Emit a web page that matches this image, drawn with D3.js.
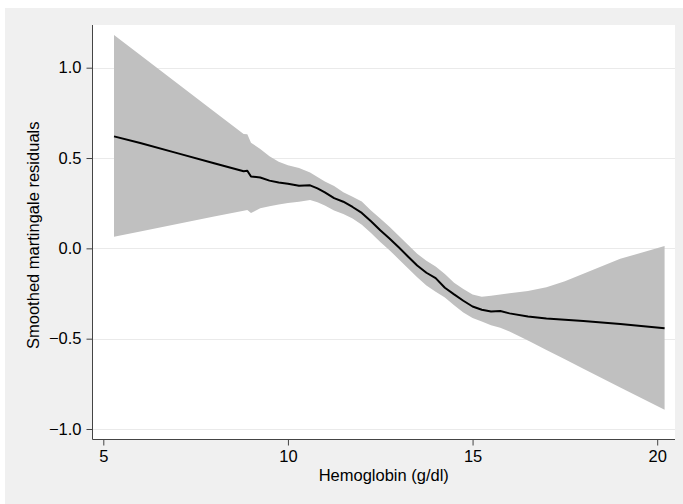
<!DOCTYPE html>
<html>
<head>
<meta charset="utf-8">
<script src="https://cdn.jsdelivr.net/npm/d3@7"></script>
<style>
  html, body { margin: 0; padding: 0; background: #ffffff; }
  svg { display: block; }
  text { font-family: "Liberation Sans", Arial, Helvetica, sans-serif; fill: #000; }
</style>
</head>
<body>
<svg id="chart" width="683" height="504"></svg>
<script>
// Hemoglobin (g/dl)
const hemoglobin = [5.29, 6, 7, 8, 8.8, 8.9, 9.0, 9.25, 9.5, 9.75, 10.0, 10.3, 10.6, 10.8, 11.0, 11.25, 11.5, 11.75, 12.0, 12.25, 12.5, 12.75, 13.0, 13.25, 13.5, 13.75, 14.0, 14.25, 14.5, 14.75, 15.0, 15.25, 15.5, 15.75, 16.0, 16.5, 17.0, 17.5, 18, 19, 20.2];
// Smoothed martingale residuals
const smoothed = [0.62, 0.583, 0.527, 0.471, 0.427, 0.43, 0.398, 0.392, 0.375, 0.364, 0.358, 0.347, 0.349, 0.332, 0.31, 0.278, 0.258, 0.229, 0.196, 0.15, 0.10, 0.055, 0.006, -0.045, -0.095, -0.135, -0.165, -0.218, -0.255, -0.29, -0.322, -0.34, -0.35, -0.347, -0.36, -0.377, -0.388, -0.395, -0.402, -0.419, -0.442];
// Upper confidence bound
const upperCI = [1.181, 1.07, 0.914, 0.758, 0.633, 0.632, 0.585, 0.55, 0.51, 0.48, 0.46, 0.445, 0.42, 0.395, 0.37, 0.345, 0.31, 0.285, 0.26, 0.21, 0.165, 0.12, 0.07, 0.02, -0.03, -0.068, -0.1, -0.142, -0.19, -0.225, -0.255, -0.268, -0.262, -0.255, -0.248, -0.236, -0.216, -0.182, -0.141, -0.058, 0.013];
// Lower confidence bound
const lowerCI = [0.064, 0.093, 0.135, 0.176, 0.208, 0.212, 0.196, 0.222, 0.233, 0.243, 0.251, 0.258, 0.268, 0.255, 0.237, 0.21, 0.19, 0.165, 0.13, 0.085, 0.035, -0.01, -0.06, -0.11, -0.16, -0.205, -0.24, -0.272, -0.315, -0.355, -0.385, -0.405, -0.425, -0.44, -0.46, -0.51, -0.563, -0.614, -0.666, -0.77, -0.894];

const xTicks = [5, 10, 15, 20];
const yTicks = [-1.0, -0.5, 0.0, 0.5, 1.0];
const xTitle = "Hemoglobin (g/dl)";
const yTitle = "Smoothed martingale residuals";

const data = hemoglobin.map((x, i) => ({ x, y: smoothed[i], hi: upperCI[i], lo: lowerCI[i] }));

const svg = d3.select("#chart");
const W = 683, H = 504;
const plot = { left: 92.5, right: 675, top: 25, bottom: 439.5 };

// outer background
svg.append("rect").attr("x", 5).attr("y", 8).attr("width", W - 5).attr("height", H - 8).attr("fill", "#f0f0f0");
// plot region
svg.append("rect").attr("x", plot.left).attr("y", plot.top)
  .attr("width", plot.right - plot.left).attr("height", plot.bottom - plot.top).attr("fill", "#ffffff");

const x = d3.scaleLinear().domain([5, 20]).range([103.3, 657.2]);
const y = d3.scaleLinear().domain([-1, 1]).range([429.0, 67.7]);

// gridlines
svg.append("g").selectAll("line").data(yTicks).join("line")
  .attr("x1", plot.left + 0.5).attr("x2", plot.right)
  .attr("y1", d => Math.round(y(d)) + 0.5).attr("y2", d => Math.round(y(d)) + 0.5)
  .attr("stroke", "#eaeaea").attr("stroke-width", 1);

// confidence band
const area = d3.area().x(d => x(d.x)).y0(d => y(d.lo)).y1(d => y(d.hi));
svg.append("path").datum(data).attr("d", area).attr("fill", "#c0c0c0");

// smoothed line
const line = d3.line().x(d => x(d.x)).y(d => y(d.y));
svg.append("path").datum(data).attr("d", line)
  .attr("fill", "none").attr("stroke", "#000").attr("stroke-width", 2).attr("stroke-linejoin", "round");

// axes
const yAxis = d3.axisLeft(y).tickValues(yTicks).tickFormat(d => d3.format(".1f")(d).replace("-", "\u2212")).tickSize(6).tickPadding(5);
const gy = svg.append("g").attr("transform", `translate(${plot.left},0)`).call(yAxis);
gy.select(".domain").remove();
gy.append("line").attr("x1", 0).attr("x2", 0).attr("y1", plot.top).attr("y2", plot.bottom).attr("stroke", "#444");
gy.selectAll(".tick line").attr("stroke", "#444");
gy.selectAll(".tick text").style("font-size", "16.5px").attr("fill", "#000")
  .style("font-family", '"Liberation Sans", Arial, sans-serif');

const xAxis = d3.axisBottom(x).tickValues(xTicks).tickFormat(d3.format("d")).tickSize(6).tickPadding(5);
const gx = svg.append("g").attr("transform", `translate(0,${plot.bottom})`).call(xAxis);
gx.select(".domain").remove();
gx.append("line").attr("x1", plot.left).attr("x2", plot.right).attr("y1", 0).attr("y2", 0).attr("stroke", "#444");
gx.selectAll(".tick line").attr("stroke", "#444");
gx.selectAll(".tick text").style("font-size", "16.5px").attr("fill", "#000")
  .style("font-family", '"Liberation Sans", Arial, sans-serif');

// titles
svg.append("text").attr("x", (plot.left + plot.right) / 2).attr("y", 481)
  .attr("text-anchor", "middle").style("font-size", "16.5px").text(xTitle);
svg.append("text").attr("transform", `translate(38.5,${(plot.top + plot.bottom) / 2 + 3}) rotate(-90)`)
  .attr("text-anchor", "middle").style("font-size", "16.5px").text(yTitle);
</script>
</body>
</html>
